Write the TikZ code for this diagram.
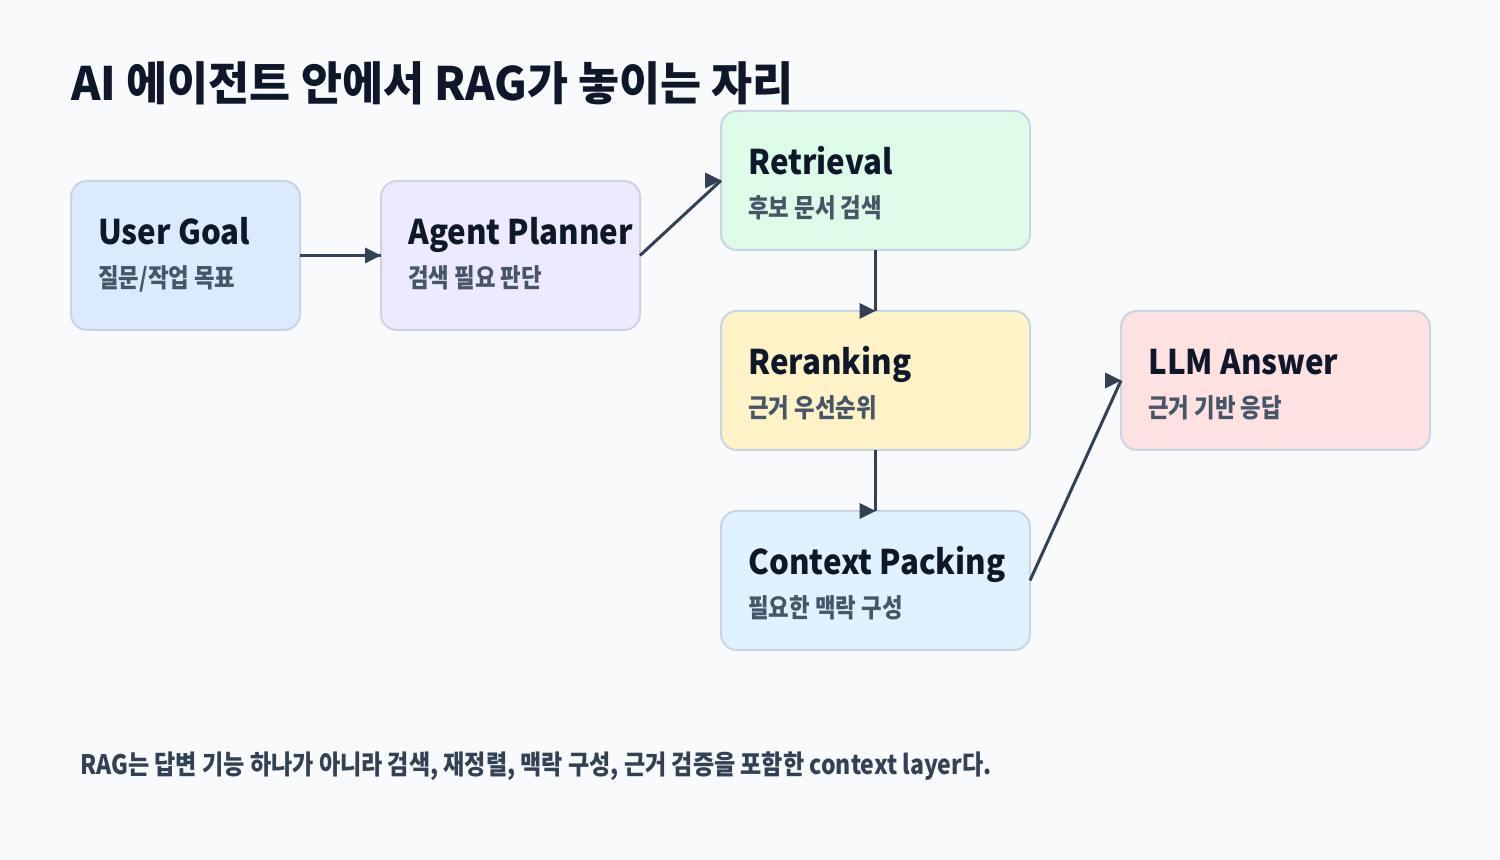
\documentclass[tikz,border=0pt]{standalone}
\usepackage{fontspec}
\setmainfont{Noto Sans CJK KR}[FakeStretch=0.86]
\newfontfamily\titlefont{Noto Sans CJK KR}[FakeStretch=0.97]
\newfontfamily\cardfont{Noto Sans CJK KR}[FakeStretch=0.92]
\definecolor{bgc}{HTML}{F8FAFC}
\definecolor{edgec}{HTML}{CBD5E1}
\definecolor{arrowc}{HTML}{334155}
\definecolor{titlec}{HTML}{0F172A}
\definecolor{subc}{HTML}{475569}
\definecolor{footc}{HTML}{334155}
\definecolor{fblue}{HTML}{DBEAFE}
\definecolor{fpurple}{HTML}{EDE9FE}
\definecolor{fgreen}{HTML}{DCFCE7}
\definecolor{fyellow}{HTML}{FEF3C7}
\definecolor{fsky}{HTML}{E0F2FE}
\definecolor{fred}{HTML}{FEE2E2}
\tikzset{
  card/.style={draw=edgec, line width=1pt, rounded corners=8pt, inner sep=0pt, outer sep=0pt},
  cardtitle/.style={anchor=base west, inner sep=0pt, text=titlec, font=\cardfont\bfseries\fontsize{17}{20}\selectfont},
  cardsub/.style={anchor=base west, inner sep=0pt, text=subc, font=\bfseries\fontsize{13}{15}\selectfont},
  link/.style={draw=arrowc, line width=1.5pt},
  tipc/.style={fill=arrowc}
}
\newcommand{\righttip}[1]{\fill[tipc] (#1) -- ++(-16,-8) -- ++(0,16) -- cycle;}
\begin{document}
\begin{tikzpicture}[x=0.5pt,y=-0.5pt]
\fill[bgc] (0,0) rectangle (1500,860);
\useasboundingbox (0,0) rectangle (1500,860);
\node[anchor=base west, inner sep=0pt, text=titlec, font=\titlefont\bfseries\fontsize{23}{26}\selectfont] (title) at (71,101) {AI 에이전트 안에서 RAG가 놓이는 자리};

\node[card, fill=fblue, minimum width=114.5pt, minimum height=74.5pt] (ug) at (185.5,255.5) {};
\node[card, fill=fpurple, minimum width=129.5pt, minimum height=74.5pt] (ap) at (510.5,255.5) {};
\node[card, fill=fgreen, minimum width=154.5pt, minimum height=69.5pt] (rt) at (875.5,180.5) {};
\node[card, fill=fyellow, minimum width=154.5pt, minimum height=69.5pt] (rr) at (875.5,380.5) {};
\node[card, fill=fsky, minimum width=154.5pt, minimum height=69.5pt] (cp) at (875.5,580.5) {};
\node[card, fill=fred, minimum width=154.5pt, minimum height=69.5pt] (llm) at (1275.5,380.5) {};

\node[cardtitle] (ugt) at (98,245) {User Goal};
\node[cardsub] (ugs) at (98,288) {질문/작업 목표};
\node[cardtitle] (apt) at (408,245) {Agent Planner};
\node[cardsub] (aps) at (408,288) {검색 필요 판단};
\node[cardtitle] (rtt) at (748,175) {Retrieval};
\node[cardsub] (rts) at (748,218) {후보 문서 검색};
\node[cardtitle] (rrt) at (748,375) {Reranking};
\node[cardsub] (rrs) at (748,418) {근거 우선순위};
\node[cardtitle] (cpt) at (748,575) {Context Packing};
\node[cardsub] (cps) at (748,618) {필요한 맥락 구성};
\node[cardtitle] (llmt) at (1148,375) {LLM Answer};
\node[cardsub] (llms) at (1148,418) {근거 기반 응답};

\draw[link] (ug.east) -- (ap.west); \righttip{ap.west}
\draw[link] (ap.east) -- (rt.west); \righttip{rt.west}
\draw[link] (rt.south) -- (rr.north); \righttip{rr.north}
\draw[link] (rr.south) -- (cp.north); \righttip{cp.north}
\draw[link] (cp.east) -- (llm.west); \righttip{llm.west}

\node[anchor=base west, inner sep=0pt, text=footc, font=\bfseries\fontsize{13.4}{15}\selectfont] (foot) at (80,775) {RAG는 답변 기능 하나가 아니라 검색, 재정렬, 맥락 구성, 근거 검증을 포함한 context layer다.};
\end{tikzpicture}
\end{document}
